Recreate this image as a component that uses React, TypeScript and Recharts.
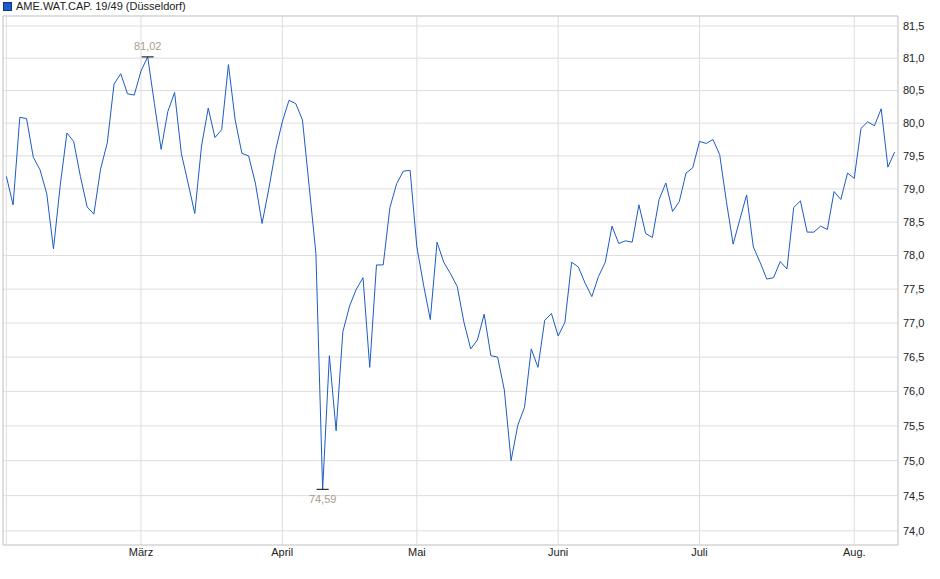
import React from "react";
import {
  LineChart,
  Line,
  XAxis,
  YAxis,
  CartesianGrid,
  ReferenceLine,
  ReferenceDot,
} from "recharts";

// Daily closing prices (trading days from 3 Feb 2025)
const prices: number[] = [
  79.19, 78.76, 80.09, 80.07, 79.48, 79.29, 78.93, 78.1, 79.05, 79.85,
  79.72, 79.19, 78.73, 78.62, 79.3, 79.7, 80.6, 80.76, 80.45, 80.43,
  80.8, 81.02, 80.3, 79.6, 80.18, 80.47, 79.54, 79.09, 78.63, 79.65,
  80.23, 79.78, 79.9, 80.9, 80.05, 79.54, 79.5, 79.09, 78.48, 79.0,
  79.58, 80.02, 80.35, 80.3, 80.05, 79.04, 78.03, 74.59, 76.52, 75.43,
  76.87, 77.25, 77.5, 77.67, 76.35, 77.86, 77.86, 78.72, 79.08, 79.27,
  79.28, 78.13, 77.56, 77.05, 78.2, 77.9, 77.73, 77.54, 77.01, 76.62,
  76.75, 77.13, 76.52, 76.5, 76.02, 75.0, 75.51, 75.77, 76.62, 76.35,
  77.04, 77.14, 76.81, 77.01, 77.9, 77.83, 77.59, 77.39, 77.69, 77.9,
  78.44, 78.18, 78.22, 78.2, 78.76, 78.33, 78.27, 78.84, 79.09, 78.66,
  78.81, 79.24, 79.32, 79.72, 79.69, 79.75, 79.52, 78.81, 78.17, 78.54,
  78.91, 78.13, 77.9, 77.65, 77.67, 77.91, 77.8, 78.72, 78.82, 78.35,
  78.35, 78.44, 78.39, 78.96, 78.84, 79.24, 79.16, 79.92, 80.02, 79.96,
  80.22, 79.33, 79.56,
];

// Month starts (trading-day index) and their labels
const monthTickIdx: number[] = [0, 20, 41, 61, 82, 103, 126];
const monthTickLabels: string[] = ["", "März", "April", "Mai", "Juni", "Juli", "Aug."];

// Price axis ticks
const priceTicks: number[] = [
  74.0, 74.5, 75.0, 75.5, 76.0, 76.5, 77.0, 77.5, 78.0, 78.5, 79.0, 79.5, 80.0, 80.5, 81.0, 81.5,
];

const seriesName = "AME.WAT.CAP. 19/49 (Düsseldorf)";

const Y_MIN = 73.8;
const Y_MAX = 81.656;
const X_MIN = -0.5;
const X_MAX = prices.length - 0.5;

const data = prices.map((v, i) => ({ i, v }));

let maxIdx = 0;
let minIdx = 0;
prices.forEach((v, i) => {
  if (v > prices[maxIdx]) maxIdx = i;
  if (v < prices[minIdx]) minIdx = i;
});

const fmt = (n: number, d: number) => n.toFixed(d).replace(".", ",");

const LINE_COLOR = "#1c5cc4";
const GRID = "#dddddd";
const FRAME = "#cfcfcf";
const ANNOT = "#a99d8e";
const TICK_FONT = "'Liberation Sans Narrow', 'Liberation Sans', Arial, sans-serif";

const MarkShape = (above: boolean, label: string) => (props: any) => {
  const { cx, cy } = props;
  return (
    <g>
      <line x1={cx - 6} x2={cx + 6} y1={cy} y2={cy} stroke="#000" strokeWidth={1} />
      <text
        x={cx}
        y={above ? cy - 7 : cy + 14}
        textAnchor="middle"
        fill={ANNOT}
        fontSize={11}
        fontFamily="'Liberation Sans', Arial, sans-serif"
      >
        {label}
      </text>
    </g>
  );
};

export default function App() {
  return (
    <div style={{ position: "relative", width: 940, height: 579 }}>
      <style>{"body{margin:0}"}</style>
      <div
        style={{
          position: "absolute",
          left: 3,
          top: 0,
          display: "flex",
          alignItems: "center",
          fontFamily: "'Liberation Sans', Arial, sans-serif",
          fontSize: 11,
          color: "#222",
          height: 12,
          zIndex: 2,
        }}
      >
        <span
          style={{
            display: "inline-block",
            width: 7,
            height: 7,
            background: LINE_COLOR,
            border: "1px solid #0d3580",
            marginRight: 4,
          }}
        />
        <span>{seriesName}</span>
      </div>
      <LineChart
        width={940}
        height={579}
        data={data}
        margin={{ top: 16, right: 0, bottom: 0, left: 3 }}
      >
        <CartesianGrid stroke={GRID} strokeWidth={1} />
        <XAxis
          dataKey="i"
          type="number"
          domain={[X_MIN, X_MAX]}
          ticks={monthTickIdx}
          tickFormatter={(v: number) => monthTickLabels[monthTickIdx.indexOf(v)] ?? ""}
          interval={0}
          height={34}
          tickLine={false}
          tickSize={3}
          tickMargin={0}
          axisLine={{ stroke: FRAME }}
          tick={{ fill: "#222", fontSize: 11, fontFamily: TICK_FONT }}
          allowDataOverflow
        />
        <YAxis
          orientation="right"
          scale="log"
          domain={[Y_MIN, Y_MAX]}
          ticks={priceTicks}
          tickFormatter={(v: number) => fmt(v, 1)}
          interval={0}
          width={42}
          tickLine={false}
          tickSize={4}
          tickMargin={1}
          axisLine={{ stroke: FRAME }}
          tick={{ fill: "#222", fontSize: 11, fontFamily: TICK_FONT, textAnchor: "start" }}
          allowDataOverflow
        />
        <ReferenceLine y={Y_MAX} stroke={FRAME} ifOverflow="extendDomain" />
        <ReferenceLine x={X_MIN} stroke={FRAME} ifOverflow="extendDomain" />
        <Line
          type="linear"
          dataKey="v"
          stroke={LINE_COLOR}
          strokeWidth={1}
          dot={false}
          activeDot={false}
          isAnimationActive={false}
        />
        <ReferenceDot
          x={maxIdx}
          y={prices[maxIdx]}
          r={0}
          shape={MarkShape(true, fmt(prices[maxIdx], 2))}
        />
        <ReferenceDot
          x={minIdx}
          y={prices[minIdx]}
          r={0}
          shape={MarkShape(false, fmt(prices[minIdx], 2))}
        />
      </LineChart>
    </div>
  );
}
